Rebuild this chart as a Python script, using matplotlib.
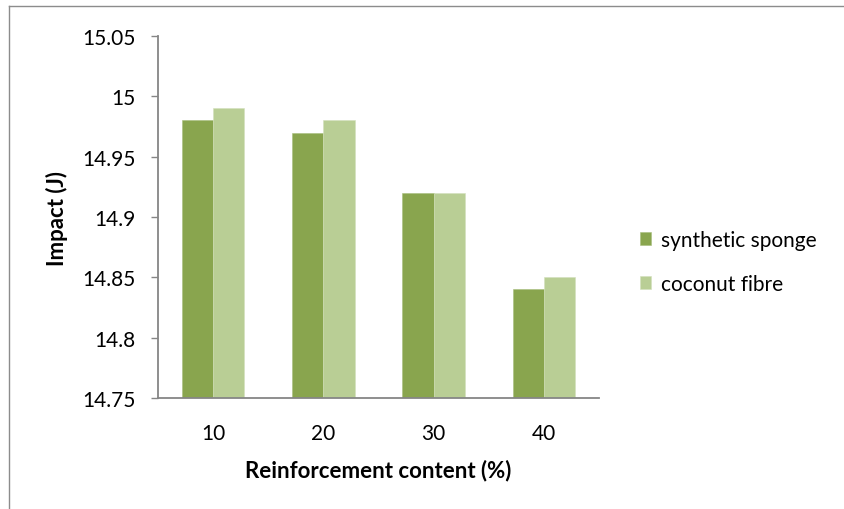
import matplotlib
matplotlib.use("Agg")
import matplotlib.pyplot as plt
import numpy as np
from matplotlib.lines import Line2D

categories = ["10", "20", "30", "40"]
synthetic_sponge = [14.98, 14.97, 14.92, 14.84]
coconut_fibre = [14.99, 14.98, 14.92, 14.85]
series_names = ["synthetic sponge", "coconut fibre"]
yticks = [14.75, 14.8, 14.85, 14.9, 14.95, 15.0, 15.05]
ytick_labels = ["14.75", "14.8", "14.85", "14.9", "14.95", "15", "15.05"]

plt.rcParams['font.family'] = ['Lato', 'DejaVu Sans']

W, H = 844, 510
fig = plt.figure(figsize=(W/100, H/100), dpi=100)
ax = fig.add_axes([158/W, 1-399/H, 441/W, (399-37)/H])

x = np.arange(len(categories))
bw = 0.284
c1, c2 = "#89A54E", "#B9CE95"
ax.bar(x - bw/2, synthetic_sponge, bw, color=c1, edgecolor="#A8BE7E", linewidth=0.4,
       label=series_names[0], zorder=2)
ax.bar(x + bw/2, coconut_fibre, bw, color=c2, edgecolor="#D3E0BD", linewidth=0.4,
       label=series_names[1], zorder=2)

ax.set_xlim(-0.5, len(categories) - 0.5)
ax.set_ylim(14.75, 15.05)
ax.set_yticks(yticks)
ax.set_yticklabels(ytick_labels)
ax.set_xticks(x)
ax.set_xticklabels(categories)

gray = "#868686"
for s in ["top", "right"]:
    ax.spines[s].set_visible(False)
for s in ["left", "bottom"]:
    ax.spines[s].set_color(gray)
    ax.spines[s].set_linewidth(1.3)
ax.tick_params(axis="y", direction="out", length=5, width=1, color=gray,
               labelsize=15, pad=11, labelcolor="black")
ax.tick_params(axis="x", length=0, labelsize=15, pad=18, labelcolor="black")

ax.set_ylabel("Impact (J)", fontsize=16, fontweight="bold")
ax.yaxis.set_label_coords((68 - 158) / 441, 0.5)
ax.set_xlabel("Reinforcement content (%)", fontsize=16, fontweight="bold", labelpad=11)

fig.legend(loc="center left", bbox_to_anchor=(621/W, 1-263/H), frameon=False,
           fontsize=15, handlelength=0.55, handleheight=0.55, handletextpad=0.45,
           labelspacing=1.15)

# outer chart frame (left and top edges)
fig.add_artist(Line2D([9/W, 9/W], [0, 1-7/H], color="#8c8c8c", linewidth=1.0,
                      transform=fig.transFigure))
fig.add_artist(Line2D([9/W, 843/W], [1-7/H, 1-7/H], color="#8c8c8c", linewidth=1.0,
                      transform=fig.transFigure))

fig.savefig("out.png", dpi=100)
